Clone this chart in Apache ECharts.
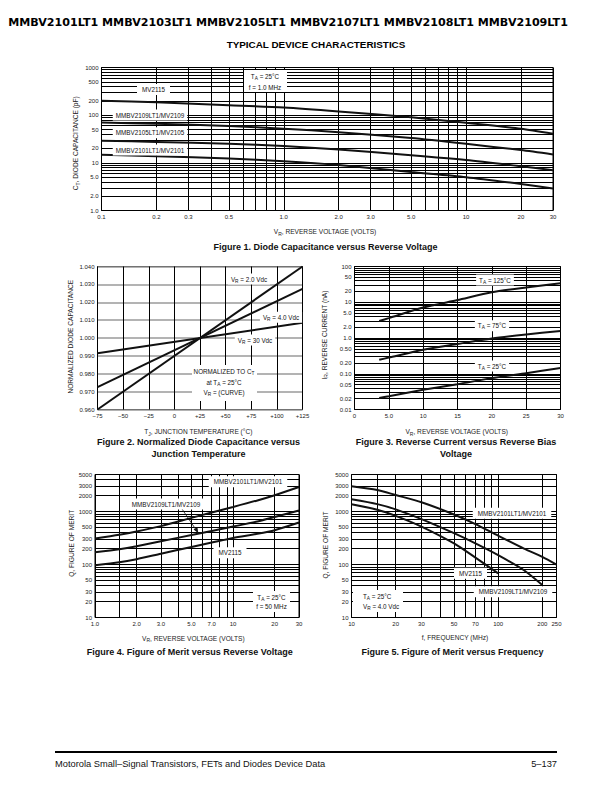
<!DOCTYPE html>
<html><head><meta charset="utf-8">
<script src="https://cdn.jsdelivr.net/npm/echarts@6/dist/echarts.min.js"></script>
<style>html,body{margin:0;padding:0;background:#fff}#c{width:612px;height:792px}</style>
</head><body><div id="c"></div>
<script>
// ---------- Figure 1: Diode capacitance vs reverse voltage ----------
const fig1Voltage = [0.1, 0.2, 0.5, 1, 2, 5, 10, 20, 30];
const fig1MV2115  = [200, 186, 162, 145, 120, 90, 69, 52, 41];
const fig1MV2109  = [70, 66, 59, 52, 44, 33, 25, 18.5, 15];
const fig1MV2105  = [29, 27.5, 25, 22.5, 19, 14.5, 11.5, 8.5, 7];
const fig1MV2101  = [14.7, 13.8, 12.3, 10.8, 9, 6.4, 5, 3.6, 2.9];
const fig1XTicks  = [0.1, 0.2, 0.3, 0.5, 1, 2, 3, 5, 10, 20, 30];
const fig1XLabels = ['0.1', '0.2', '0.3', '0.5', '1.0', '2.0', '3.0', '5.0', '10', '20', '30'];
const fig1YTicks  = [1, 2, 5, 10, 20, 50, 100, 200, 500, 1000];
const fig1YLabels = ['1.0', '2.0', '5.0', '10', '20', '50', '100', '200', '500', '1000'];
const fig1XGrid = [0.1,0.2,0.3,0.4,0.5,0.6,0.7,0.8,0.9,1,2,3,4,5,6,7,8,9,10,20,30];
const fig1YGrid = [1,2,3,4,5,6,7,8,9,10,20,30,40,50,60,70,80,90,100,200,300,400,500,600,700,800,900,1000];

// ---------- Figure 2: Normalized capacitance vs junction temperature ----------
const fig2Temp  = [-75, 125];
const fig2VR2   = [0.960, 1.040];
const fig2VR4   = [0.9725, 1.0275];
const fig2VR30  = [0.9915, 1.0085];
const fig2XTicks  = [-75, -50, -25, 0, 25, 50, 75, 100, 125];
const fig2XLabels = ['\u221275', '\u221250', '\u221225', '0', '+25', '+50', '+75', '+100', '+125'];
const fig2YTicks  = [0.96, 0.97, 0.98, 0.99, 1.0, 1.01, 1.02, 1.03, 1.04];
const fig2YLabels = ['0.960', '0.970', '0.980', '0.990', '1.000', '1.010', '1.020', '1.030', '1.040'];

// ---------- Figure 3: Reverse current vs reverse voltage ----------
const fig3Voltage = [3.6, 5, 10, 15, 20, 25, 30];
const fig3T125 = [3.0, 3.6, 7.1, 11.5, 19, 26, 34];
const fig3T75  = [0.245, 0.283, 0.47, 0.68, 0.97, 1.26, 1.58];
const fig3T25  = [0.021, 0.0236, 0.0356, 0.051, 0.0755, 0.104, 0.144];
const fig3XTicks  = [0, 5, 10, 15, 20, 25, 30];
const fig3XLabels = ['0', '5.0', '10', '15', '20', '25', '30'];
const fig3YTicks  = [0.01, 0.02, 0.05, 0.1, 0.2, 0.5, 1, 2, 5, 10, 20, 50, 100];
const fig3YLabels = ['0.01', '0.02', '0.05', '0.10', '0.20', '0.50', '1.0', '2.0', '5.0', '10', '20', '50', '100'];
const fig3YGrid = [0.01,0.02,0.03,0.04,0.05,0.06,0.07,0.08,0.09,0.1,0.2,0.3,0.4,0.5,0.6,0.7,0.8,0.9,1,2,3,4,5,6,7,8,9,10,20,30,40,50,60,70,80,90,100];

// ---------- Figure 4: Figure of merit vs reverse voltage ----------
const fig4Voltage = [1, 1.5, 2, 3, 5, 7, 10, 15, 20, 30];
const fig4MV2101  = [310, 365, 420, 530, 760, 960, 1220, 1620, 2030, 2900];
const fig4MV2109  = [170, 195, 222, 275, 360, 430, 520, 650, 790, 1050];
const fig4MV2115  = [97, 110, 126, 160, 215, 260, 318, 380, 444, 620];
const fig4XTicks  = [1, 2, 3, 5, 7, 10, 20, 30];
const fig4XLabels = ['1.0', '2.0', '3.0', '5.0', '7.0', '10', '20', '30'];
const fig4XGrid = [1,1.5,2,3,4,5,6,7,8,9,10,20,30];
const qTicks  = [10, 20, 30, 50, 100, 200, 300, 500, 1000, 2000, 3000, 5000];
const qLabels = ['10', '20', '30', '50', '100', '200', '300', '500', '1000', '2000', '3000', '5000'];
const qGrid = [10,20,30,40,50,60,70,80,90,100,200,300,400,500,600,700,800,900,1000,2000,3000,4000,5000];

// ---------- Figure 5: Figure of merit vs frequency ----------
const fig5FreqA   = [10, 15, 20, 30, 50, 70, 100, 150, 200, 250];
const fig5MV2101  = [3000, 2550, 2050, 1500, 880, 580, 350, 200, 140, 100];
const fig5FreqB   = [10, 15, 20, 30, 50, 70, 100, 150, 200];
const fig5MV2109  = [1700, 1380, 1100, 720, 390, 250, 150, 78, 41];
const fig5FreqC   = [10, 15, 20, 30, 50, 70, 100];
const fig5MV2115  = [1370, 1080, 830, 520, 250, 135, 68];
const fig5XTicks  = [10, 20, 30, 50, 70, 100, 200, 250];
const fig5XLabels = ['10', '20', '30', '50', '70', '100', '200', '250'];
const fig5XGrid = [10,15,20,30,40,50,60,70,80,90,100,200,250];

// ---------- helpers ----------
const FONT = 'Liberation Sans, Arial, Helvetica, sans-serif';
function zip(xs, ys) { return xs.map((x, i) => [x, ys[i]]); }
function nearestLog(vals, labels) {
  return v => { let b = 0, bd = Infinity; vals.forEach((t, i) => { const d = Math.abs(Math.log(t) - Math.log(v)); if (d < bd) { bd = d; b = i; } }); return labels[b]; };
}
function nearestLin(vals, labels) {
  return v => { let b = 0, bd = Infinity; vals.forEach((t, i) => { const d = Math.abs(t - v); if (d < bd) { bd = d; b = i; } }); return labels[b]; };
}
const labelStyle = { fontSize: 6, color: '#222', fontFamily: FONT, margin: 3 };
function logAxis(gi, min, max, grid, ticks, labels) {
  return {
    type: 'log', logBase: 10, gridIndex: gi, min, max,
    axisLine: { show: false }, axisTick: { show: false, customValues: grid },
    axisLabel: Object.assign({ customValues: ticks, formatter: nearestLog(ticks, labels) }, labelStyle),
    splitLine: { show: true, lineStyle: { color: '#000', width: 1 } }
  };
}
function linAxis(gi, min, max, interval, ticks, labels, lineColor, lineWidth) {
  return {
    type: 'value', gridIndex: gi, min, max, interval,
    axisLine: { show: false }, axisTick: { show: false },
    axisLabel: Object.assign({ formatter: nearestLin(ticks, labels) }, labelStyle),
    splitLine: { show: true, lineStyle: { color: lineColor, width: lineWidth } }
  };
}
function curve(xi, data) {
  return { type: 'line', xAxisIndex: xi, yAxisIndex: xi, data, symbol: 'none', smooth: 0.25,
    lineStyle: { color: '#111', width: 2 }, silent: true, animation: false, z: 3 };
}
const rich = {
  n: { fontSize: 6.3, fontFamily: FONT, fill: '#111', lineHeight: 9, verticalAlign: 'middle' },
  s: { fontSize: 4.8, fontFamily: FONT, fill: '#111', lineHeight: 9, verticalAlign: 'bottom', padding: [3, 0, 0, 0] },
  b: { fontSize: 6.6, fontFamily: FONT, fill: '#222', lineHeight: 9, verticalAlign: 'middle' },
  bs: { fontSize: 5, fontFamily: FONT, fill: '#222', lineHeight: 9, verticalAlign: 'bottom', padding: [3, 0, 0, 0] }
};
function note(x, y, text, opts) {
  opts = opts || {};
  return { type: 'text', x, y, z: 50, rotation: opts.rot || 0,
    style: { text, rich, fontSize: 6.3, fontFamily: FONT, fill: '#111', align: opts.align || 'center', verticalAlign: 'middle',
      backgroundColor: opts.bg === false ? 'transparent' : '#fff', padding: opts.pad || [1, 3, 1, 3] } };
}
function title(x, y, text, rot) {
  return { type: 'text', x, y, z: 50, rotation: rot || 0,
    style: { text, rich, fontSize: 6.6, fontFamily: FONT, fill: '#222', align: 'center', verticalAlign: 'middle' } };
}
function caption(x, y, text) {
  return { type: 'text', x, y, z: 50,
    style: { text, fontSize: 9, fontWeight: 'bold', fontFamily: FONT, fill: '#111', align: 'center', verticalAlign: 'middle' } };
}
function wbox(x, y, w, h) {
  return { type: 'rect', shape: { x, y, width: w, height: h }, z: 40, style: { fill: '#fff' } };
}

const grids = [
  { left: 101.5, top: 67.5, width: 451.5, height: 143 },
  { left: 97.5, top: 266.5, width: 205, height: 143 },
  { left: 354.5, top: 266.5, width: 206, height: 143 },
  { left: 95, top: 474.5, width: 204, height: 143 },
  { left: 351.5, top: 474.5, width: 205, height: 143 }
].map(g => Object.assign({ show: true, borderColor: '#000', borderWidth: 1, backgroundColor: 'transparent', containLabel: false }, g));

const xAxis = [
  logAxis(0, 0.1, 30, fig1XGrid, fig1XTicks, fig1XLabels),
  linAxis(1, -75, 125, 25, fig2XTicks, fig2XLabels, '#000', 1),
  linAxis(2, 0, 30, 5, fig3XTicks, fig3XLabels, '#000', 1),
  logAxis(3, 1, 30, fig4XGrid, fig4XTicks, fig4XLabels),
  logAxis(4, 10, 250, fig5XGrid, fig5XTicks, fig5XLabels)
];
const yAxis = [
  logAxis(0, 1, 1000, fig1YGrid, fig1YTicks, fig1YLabels),
  linAxis(1, 0.96, 1.04, 0.01, fig2YTicks, fig2YLabels, '#9a9a9a', 1.6),
  logAxis(2, 0.01, 100, fig3YGrid, fig3YTicks, fig3YLabels),
  logAxis(3, 10, 5000, qGrid, qTicks, qLabels),
  logAxis(4, 10, 5000, qGrid, qTicks, qLabels)
];

const series = [
  curve(0, zip(fig1Voltage, fig1MV2115)),
  curve(0, zip(fig1Voltage, fig1MV2109)),
  curve(0, zip(fig1Voltage, fig1MV2105)),
  curve(0, zip(fig1Voltage, fig1MV2101)),
  Object.assign(curve(1, zip(fig2Temp, fig2VR2)), { smooth: false }),
  Object.assign(curve(1, zip(fig2Temp, fig2VR4)), { smooth: false }),
  Object.assign(curve(1, zip(fig2Temp, fig2VR30)), { smooth: false }),
  curve(2, zip(fig3Voltage, fig3T125)),
  curve(2, zip(fig3Voltage, fig3T75)),
  curve(2, zip(fig3Voltage, fig3T25)),
  curve(3, zip(fig4Voltage, fig4MV2101)),
  curve(3, zip(fig4Voltage, fig4MV2109)),
  curve(3, zip(fig4Voltage, fig4MV2115)),
  curve(4, zip(fig5FreqA, fig5MV2101)),
  curve(4, zip(fig5FreqB, fig5MV2109)),
  curve(4, zip(fig5FreqC, fig5MV2115))
];

const graphic = [
  // page header
  { type: 'text', x: 288, y: 22, z: 50, style: { text: 'MMBV2101LT1 MMBV2103LT1 MMBV2105LT1 MMBV2107LT1 MMBV2108LT1 MMBV2109LT1',
      fontSize: 11.1, fontWeight: 'bold', fontFamily: 'DejaVu Sans, sans-serif', fill: '#000', align: 'center', verticalAlign: 'middle' } },
  { type: 'text', x: 316, y: 44, z: 50, style: { text: 'TYPICAL DEVICE CHARACTERISTICS',
      fontSize: 9.9, fontWeight: 'bold', fontFamily: FONT, fill: '#000', align: 'center', verticalAlign: 'middle' } },

  // Figure 1
  wbox(244, 70, 43, 22),
  note(265, 76.5, '{n|T}{s|A}{n| = 25°C}', { bg: false }),
  note(265, 87, '{n|f = 1.0 MHz}', { bg: false }),
  note(153.5, 89.5, '{n|MV2115}', { pad: [1, 5, 1, 5] }),
  note(150, 115, '{n|MMBV2109LT1/MV2109}'),
  note(150, 132.7, '{n|MMBV2105LT1/MV2105}'),
  note(150, 150, '{n|MMBV2101LT1/MV2101}'),
  title(75.7, 143.3, '{b|C}{bs|T}{b|, DIODE CAPACITANCE (pF)}', Math.PI / 2),
  title(325, 231.7, '{b|V}{bs|R}{b|, REVERSE VOLTAGE (VOLTS)}'),
  caption(325.5, 247, 'Figure 1. Diode Capacitance versus Reverse Voltage'),

  // Figure 2
  note(249, 279, '{n|V}{s|R}{n| = 2.0 Vdc}'),
  note(281, 317.3, '{n|V}{s|R}{n| = 4.0 Vdc}'),
  note(255, 340, '{n|V}{s|R}{n| = 30 Vdc}'),
  wbox(192, 365, 65, 36),
  note(224, 371.7, '{n|NORMALIZED TO C}{s|T}', { bg: false }),
  note(224, 382.3, '{n|at T}{s|A}{n| = 25°C}', { bg: false }),
  note(224, 392.5, '{n|V}{s|R}{n| = (CURVE)}', { bg: false }),
  title(70, 336.7, '{b|NORMALIZED DIODE CAPACITANCE}', Math.PI / 2),
  title(198.3, 431.7, '{b|T}{bs|J}{b|, JUNCTION TEMPERATURE (°C)}'),
  caption(198.5, 441.7, 'Figure 2. Normalized Diode Capacitance versus'),
  caption(198.5, 454, 'Junction Temperature'),

  // Figure 3
  note(495, 280, '{n|T}{s|A}{n| = 125°C}'),
  note(492, 325.7, '{n|T}{s|A}{n| = 75°C}'),
  note(492, 366, '{n|T}{s|A}{n| = 25°C}'),
  title(324, 335, '{b|I}{bs|R}{b|, REVERSE CURRENT (nA)}', Math.PI / 2),
  title(456.7, 431.7, '{b|V}{bs|R}{b|, REVERSE VOLTAGE (VOLTS)}'),
  caption(456, 441.7, 'Figure 3. Reverse Current versus Reverse Bias'),
  caption(456, 454, 'Voltage'),

  // Figure 4
  note(248, 481.7, '{n|MMBV2101LT1/MV2101}', { pad: [1, 5, 1, 5] }),
  note(166, 504, '{n|MMBV2109LT1/MV2109}', { pad: [1, 5, 1, 5] }),
  { type: 'line', z: 45, shape: { x1: 181.7, y1: 508.5, x2: 196.5, y2: 530.5 }, style: { stroke: '#111', lineWidth: 0.8 } },
  { type: 'polygon', z: 45, shape: { points: [[198.3, 533.3], [193.6, 529.6], [197.4, 527.2]] }, style: { fill: '#111' } },
  note(230, 552.7, '{n|MV2115}', { pad: [1, 5, 1, 5] }),
  wbox(253, 591, 37, 21),
  note(271.5, 597.3, '{n|T}{s|A}{n| = 25°C}', { bg: false }),
  note(271.5, 606, '{n|f = 50 MHz}', { bg: false }),
  title(71.7, 543.3, '{b|Q, FIGURE OF MERIT}', Math.PI / 2),
  title(193.3, 638.3, '{b|V}{bs|R}{b|, REVERSE VOLTAGE (VOLTS)}'),
  caption(189.7, 651.7, 'Figure 4. Figure of Merit versus Reverse Voltage'),

  // Figure 5
  note(512, 513.3, '{n|MMBV2101LT1/MV2101}', { pad: [1, 5, 1, 5] }),
  note(470.5, 573.3, '{n|MV2115}', { pad: [1, 5, 1, 5] }),
  note(513, 591.7, '{n|MMBV2109LT1/MV2109}', { pad: [1, 5, 1, 5] }),
  wbox(353, 590, 50, 22),
  note(360, 596.7, '{n|T}{s|A}{n| = 25°C}', { bg: false, align: 'left' }),
  note(360, 606.7, '{n|V}{s|R}{n| = 4.0 Vdc}', { bg: false, align: 'left' }),
  title(325, 545, '{b|Q, FIGURE OF MERIT}', Math.PI / 2),
  title(455, 637.7, '{b|f, FREQUENCY (MHz)}'),
  caption(452.5, 651.7, 'Figure 5. Figure of Merit versus Frequency'),

  // footer
  { type: 'line', z: 50, shape: { x1: 55, y1: 752, x2: 557, y2: 752 }, style: { stroke: '#000', lineWidth: 2 } },
  { type: 'text', x: 55, y: 764, z: 50, style: { text: 'Motorola Small\u2013Signal Transistors, FETs and Diodes Device Data',
      fontSize: 9.3, fontFamily: FONT, fill: '#111', align: 'left', verticalAlign: 'middle' } },
  { type: 'text', x: 557, y: 764, z: 50, style: { text: '5\u2013137',
      fontSize: 9.3, fontFamily: FONT, fill: '#111', align: 'right', verticalAlign: 'middle' } }
];

const chart = echarts.init(document.getElementById('c'), null, { renderer: 'svg', width: 612, height: 792 });
chart.setOption({ animation: false, backgroundColor: '#fff', grid: grids, xAxis, yAxis, series, graphic });
</script></body></html>
